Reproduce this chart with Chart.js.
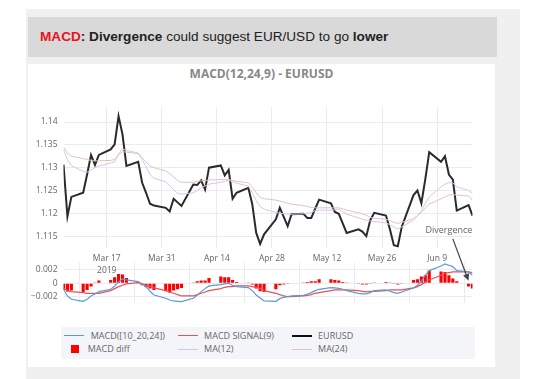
<!DOCTYPE html>
<html>
<head>
<meta charset="utf-8">
<script src="https://cdn.jsdelivr.net/npm/chart.js@4.4.1/dist/chart.umd.min.js"></script>
<style>
  body { margin: 0; background: #fff; }
  #wrap { position: relative; width: 543px; height: 379px; overflow: hidden; font-family: "Open Sans", sans-serif; }
  #outer { position: absolute; left: 26px; top: 9px; width: 494px; height: 380px; background: #f0f0f0; }
  #head { position: absolute; left: 28px; top: 17px; width: 469px; height: 40px; background: #d9d9d9;
          font: 13.6px "Liberation Sans", Arial, sans-serif; color: #222; line-height: 40px;
          padding-left: 12px; box-sizing: border-box; white-space: nowrap; }
  #head .red { color: #e8141b; }
  #panel { position: absolute; left: 28px; top: 64px; width: 467px; height: 303px; background: #fff; }
  #title { position: absolute; left: 28px; width: 467px; top: 65px; line-height: 16px; text-align: center;
           font: bold 12px "Open Sans", sans-serif; color: #888; }
  canvas { position: absolute; left: 0; top: 0; }
  #legend { position: absolute; left: 61px; top: 327px; width: 414px; height: 32px; background: #f4f5f9; }
  .li { position: absolute; font: 9px "Open Sans", sans-serif; color: #666; line-height: 12px; white-space: nowrap; }
  .sym { position: absolute; width: 20px; }
</style>
</head>
<body>
<div id="wrap">
  <div id="outer"></div>
  <div id="head"><b class="red">MACD</b><b>: Divergence</b> could suggest EUR/USD to go <b>lower</b></div>
  <div id="panel"></div>
  <div id="title">MACD(12,24,9) - EURUSD</div>
  <canvas id="macdChart" width="543" height="379"></canvas>
  <canvas id="priceChart" width="543" height="379"></canvas>
  <div id="legend"></div>
</div>
<script>
// trading days shown on the chart
const dates = [
  '2019-03-06','2019-03-07','2019-03-08','2019-03-11','2019-03-12','2019-03-13','2019-03-14','2019-03-15',
  '2019-03-18','2019-03-19','2019-03-20','2019-03-21','2019-03-22','2019-03-25','2019-03-26','2019-03-27',
  '2019-03-28','2019-03-29','2019-04-01','2019-04-02','2019-04-03','2019-04-04','2019-04-05','2019-04-08',
  '2019-04-09','2019-04-10','2019-04-11','2019-04-12','2019-04-15','2019-04-16','2019-04-17','2019-04-18',
  '2019-04-19','2019-04-22','2019-04-23','2019-04-24','2019-04-25','2019-04-26','2019-04-29','2019-04-30',
  '2019-05-01','2019-05-02','2019-05-03','2019-05-06','2019-05-07','2019-05-08','2019-05-09','2019-05-10',
  '2019-05-13','2019-05-14','2019-05-15','2019-05-16','2019-05-17','2019-05-20','2019-05-21','2019-05-22',
  '2019-05-23','2019-05-24','2019-05-27','2019-05-28','2019-05-29','2019-05-30','2019-05-31','2019-06-03',
  '2019-06-04','2019-06-05','2019-06-06','2019-06-07','2019-06-10','2019-06-11','2019-06-12','2019-06-13',
  '2019-06-14','2019-06-17','2019-06-18'
];

const eurusd = [
  1.1307, 1.1193, 1.1236, 1.1245, 1.1285, 1.1328, 1.1306, 1.1328,
  1.1340, 1.1351, 1.1413, 1.1373, 1.1304, 1.1313, 1.1267, 1.1245,
  1.1221, 1.1217, 1.1212, 1.1204, 1.1232, 1.1224, 1.1216, 1.1263,
  1.1262, 1.1272, 1.1252, 1.1300, 1.1305, 1.1283, 1.1295, 1.1232,
  1.1245, 1.1256, 1.1220, 1.1157, 1.1133, 1.1154, 1.1187, 1.1212,
  1.1192, 1.1172, 1.1198, 1.1199, 1.1190, 1.1190, 1.1210, 1.1230,
  1.1222, 1.1203, 1.1199, 1.1178, 1.1157, 1.1165, 1.1160, 1.1150,
  1.1185, 1.1201, 1.1195, 1.1165, 1.1130, 1.1128, 1.1170, 1.1240,
  1.1250, 1.1222, 1.1275, 1.1334, 1.1313, 1.1325, 1.1285, 1.1274,
  1.1206, 1.1218, 1.1195
];

const ma12 = [
  1.1340, 1.1318, 1.1304, 1.1292, 1.1290, 1.1295, 1.1300, 1.1304,
  1.1310, 1.1313, 1.1330, 1.1341, 1.1338, 1.1332, 1.1318, 1.1302,
  1.1285, 1.1277, 1.1269, 1.1260, 1.1252, 1.1244, 1.1242, 1.1245,
  1.1250, 1.1256, 1.1260, 1.1264, 1.1268, 1.1270, 1.1272, 1.1270,
  1.1266, 1.1260, 1.1245, 1.1228, 1.1215, 1.1209, 1.1202, 1.1200,
  1.1199, 1.1198, 1.1198, 1.1199, 1.1200, 1.1202, 1.1206, 1.1207,
  1.1207, 1.1208, 1.1209, 1.1204, 1.1198, 1.1190, 1.1187, 1.1185,
  1.1183, 1.1182, 1.1179, 1.1175, 1.1170, 1.1166, 1.1170, 1.1185,
  1.1195, 1.1205, 1.1222, 1.1236, 1.1258, 1.1264, 1.1267, 1.1267,
  1.1258, 1.1250, 1.1244
];

const ma24 = [
  1.1345, 1.1332, 1.1325, 1.1320, 1.1318, 1.1316, 1.1315, 1.1315,
  1.1316, 1.1318, 1.1328, 1.1335, 1.1334, 1.1331, 1.1322, 1.1312,
  1.1304, 1.1300, 1.1293, 1.1287, 1.1280, 1.1272, 1.1268, 1.1268,
  1.1270, 1.1271, 1.1272, 1.1273, 1.1274, 1.1274, 1.1274, 1.1272,
  1.1270, 1.1267, 1.1258, 1.1245, 1.1235, 1.1232, 1.1229, 1.1227,
  1.1225, 1.1222, 1.1220, 1.1217, 1.1215, 1.1213, 1.1212, 1.1212,
  1.1212, 1.1212, 1.1212, 1.1210, 1.1207, 1.1201, 1.1199, 1.1196,
  1.1191, 1.1189, 1.1187, 1.1184, 1.1180, 1.1178, 1.1180, 1.1188,
  1.1195, 1.1202, 1.1212, 1.1220, 1.1232, 1.1236, 1.1240, 1.1241,
  1.1240, 1.1238, 1.1228
];

const macdLine = [
  -0.0009, -0.0019, -0.0024, -0.0027, -0.0024, -0.0019, -0.0016, -0.00125,
  -0.0009, -0.0004, 0.0002, 0.00065, 0.0005, 0.00025, -0.0001, -0.0005,
  -0.0012, -0.00175, -0.00225, -0.0025, -0.00265, -0.0027, -0.00275, -0.00225,
  -0.0018, -0.00125, -0.0008, -0.0004, -0.0002, -0.0001, 0.0, -0.0003,
  -0.0005, -0.00065, -0.0011, -0.00175, -0.0022, -0.00265, -0.0027, -0.0023,
  -0.0021, -0.0020, -0.0019, -0.0018, -0.0016, -0.0014, -0.0011, -0.0009,
  -0.00065, -0.0007, -0.00075, -0.0009, -0.0011, -0.0015, -0.0016, -0.0016,
  -0.0014, -0.0011, -0.0010, -0.0012, -0.0014, -0.0015, -0.0013, -0.0007,
  -0.0003, 0.0003, 0.0012, 0.0019, 0.0026, 0.0029, 0.0027, 0.0025,
  0.0019, 0.0017, 0.0012
];

const macdSignal = [
  -0.00075, -0.0011, -0.00125, -0.0014, -0.0015, -0.0015, -0.0015, -0.0015,
  -0.0011, -0.0008, -0.0005, -0.0003, -0.0001, 0.0001, -0.0001, -0.00025,
  -0.0005, -0.0007, -0.0011, -0.0013, -0.0015, -0.0017, -0.0019, -0.0019,
  -0.0017, -0.0015, -0.0013, -0.0011, -0.0008, -0.0006, -0.0005, -0.0005,
  -0.0004, -0.0004, -0.0005, -0.0006, -0.0008, -0.0011, -0.0015, -0.0017,
  -0.0019, -0.0020, -0.0020, -0.0019, -0.0018, -0.0017, -0.0015, -0.0014,
  -0.0011, -0.0010, -0.0010, -0.0010, -0.0010, -0.0011, -0.0012, -0.0013,
  -0.0012, -0.0012, -0.0011, -0.0010, -0.0010, -0.0010, -0.0010, -0.0007,
  -0.0005, -0.0002, 0.0002, 0.0005, 0.0012, 0.0015, 0.0016, 0.0017,
  0.0017, 0.0017, 0.0016
];

const macdDiff = [
  -0.0010, -0.00125, -0.0011, -0.0013, -0.0010, -0.0005, 0.0001, 0.0004,
  0.0005, 0.0009, 0.0014, 0.0013, 0.0008, 0.0002, -0.0003, -0.0006,
  -0.0008, -0.0010, -0.0012, -0.0014, -0.0011, -0.0009, -0.0007, 0.0001,
  0.0003, 0.0004, 0.0004, 0.0008, 0.0010, 0.0009, 0.0009, 0.0005,
  0.0002, 0.0001, -0.0002, -0.0008, -0.0012, -0.0013, -0.0009, -0.0003,
  -0.0002, -0.0001, 0.0, 0.0001, 0.0002, 0.0003, 0.0003, 0.0006,
  0.0006, 0.0005, 0.0004, 0.0002, 0.0001, -0.0001, -0.0002, -0.0002,
  -0.0001, 0.0001, 0.0002, 0.0001, -0.0001, -0.0002, -0.0001, 0.0005,
  0.0006, 0.0010, 0.0012, 0.0019, 0.00175, 0.0017, 0.0012, 0.0007,
  0.0003, -0.0005, -0.0008
];

const xTickDates = ['2019-03-17','2019-03-31','2019-04-14','2019-04-28','2019-05-12','2019-05-26','2019-06-09'];
const xTickLabels = [['Mar 17', '2019'], 'Mar 31', 'Apr 14', 'Apr 28', 'May 12', 'May 26', 'Jun 9'];
const priceTicks = [1.115, 1.12, 1.125, 1.13, 1.135, 1.14];
const priceTickLabels = ['1.115', '1.12', '1.125', '1.13', '1.135', '1.14'];
const macdTicks = [-0.002, 0, 0.002];
const macdTickLabels = ['\u22120.002', '0', '0.002'];

// annotation, in data coordinates of the price axis
const divergenceLabel = { date: '2019-06-12', value: 1.1162, text: 'Divergence' };
const divergenceArrow = { from: ['2019-06-13', 1.1144], to: ['2019-06-17', 1.1052] };

const dayNum = s => Date.parse(s + 'T00:00:00Z') / 864e5;
const pts = arr => dates.map((d, i) => ({ x: dayNum(d), y: arr[i] }));
const xMin = dayNum(dates[0]);
const xMax = dayNum(dates[dates.length - 1]);

const gridColor = '#e8ebf3';
const tickFont = { family: 'Open Sans', size: 8.5 };
const tickColor = '#666';
const ma12Color = '#d3c6ee';
const ma24Color = '#e2c3bb';

function xAxis(showLabels) {
  return {
    type: 'linear',
    min: xMin,
    max: xMax,
    offset: false,
    afterBuildTicks: s => { s.ticks = xTickDates.map(d => ({ value: dayNum(d) })); },
    afterFit: s => { s.height = showLabels ? 30 : 0; },
    grid: { color: gridColor, drawTicks: false },
    border: { display: false },
    ticks: {
      display: showLabels,
      autoSkip: false,
      maxRotation: 0,
      padding: 5,
      font: { ...tickFont, lineHeight: 1.4 },
      color: tickColor,
      callback: (v, i) => xTickLabels[i]
    }
  };
}

function yAxis(min, max, tickVals, tickLabels) {
  return {
    min: min,
    max: max,
    afterBuildTicks: s => { s.ticks = tickVals.map(v => ({ value: v })); },
    afterFit: s => { s.width = 63.5; },
    grid: { color: gridColor, drawTicks: false },
    border: { display: false },
    ticks: { padding: 6, font: tickFont, color: tickColor, callback: (v, i) => tickLabels[i] }
  };
}

const divergencePlugin = {
  id: 'divergence',
  afterDatasetsDraw(chart) {
    const { ctx, scales: { x, y } } = chart;
    ctx.save();
    ctx.font = '9px "Open Sans"';
    ctx.fillStyle = '#666';
    ctx.textAlign = 'center';
    ctx.textBaseline = 'middle';
    ctx.fillText(divergenceLabel.text, x.getPixelForValue(dayNum(divergenceLabel.date)), y.getPixelForValue(divergenceLabel.value));

    const x0 = x.getPixelForValue(dayNum(divergenceArrow.from[0])), y0 = y.getPixelForValue(divergenceArrow.from[1]);
    const x1 = x.getPixelForValue(dayNum(divergenceArrow.to[0])), y1 = y.getPixelForValue(divergenceArrow.to[1]);
    const ang = Math.atan2(y1 - y0, x1 - x0);
    ctx.strokeStyle = '#444';
    ctx.fillStyle = '#444';
    ctx.lineWidth = 1.2;
    ctx.beginPath();
    ctx.moveTo(x0, y0);
    ctx.lineTo(x1 - 5 * Math.cos(ang), y1 - 5 * Math.sin(ang));
    ctx.stroke();
    ctx.beginPath();
    ctx.moveTo(x1, y1);
    ctx.lineTo(x1 - 7 * Math.cos(ang) + 3.2 * Math.sin(ang), y1 - 7 * Math.sin(ang) - 3.2 * Math.cos(ang));
    ctx.lineTo(x1 - 7 * Math.cos(ang) - 3.2 * Math.sin(ang), y1 - 7 * Math.sin(ang) + 3.2 * Math.cos(ang));
    ctx.closePath();
    ctx.fill();
    ctx.restore();
  }
};

new Chart(document.getElementById('priceChart'), {
  type: 'line',
  data: {
    datasets: [
      { label: 'MA(24)', data: pts(ma24), borderColor: ma24Color, borderWidth: 1 },
      { label: 'MA(12)', data: pts(ma12), borderColor: ma12Color, borderWidth: 1 },
      { label: 'EURUSD', data: pts(eurusd), borderColor: '#2a2a2a', borderWidth: 2 }
    ]
  },
  options: {
    responsive: false,
    animation: false,
    layout: { padding: { left: 0, top: 107, right: 70.5, bottom: 101 } },
    elements: { point: { radius: 0 }, line: { tension: 0 } },
    plugins: { legend: { display: false }, tooltip: { enabled: false } },
    scales: {
      x: xAxis(true),
      y: yAxis(1.1124, 1.1433, priceTicks, priceTickLabels)
    }
  },
  plugins: [divergencePlugin]
});

new Chart(document.getElementById('macdChart'), {
  type: 'bar',
  data: {
    datasets: [
      { type: 'bar', label: 'MACD diff', data: pts(macdDiff), backgroundColor: '#ff0000',
        barPercentage: 0.8, categoryPercentage: 1, order: 3 },
      { type: 'line', label: 'MACD SIGNAL(9)', data: pts(macdSignal), borderColor: '#e8505a', borderWidth: 1.2, order: 2 },
      { type: 'line', label: 'MACD([10_20,24])', data: pts(macdLine), borderColor: '#5b9bd5', borderWidth: 1.2, order: 1 }
    ]
  },
  options: {
    responsive: false,
    animation: false,
    layout: { padding: { left: 0, top: 262.6, right: 70.5, bottom: 75.7 } },
    elements: { point: { radius: 0 }, line: { tension: 0 } },
    plugins: { legend: { display: false }, tooltip: { enabled: false } },
    scales: {
      x: xAxis(false),
      y: yAxis(-0.003, 0.0031, macdTicks, macdTickLabels)
    }
  }
});

// legend, laid out like the original three column box
const legendItems = [
  { text: 'MACD([10_20,24])', kind: 'line', color: '#5b9bd5', w: 1, col: 0, row: 0 },
  { text: 'MACD SIGNAL(9)', kind: 'line', color: '#e8505a', w: 1, col: 1, row: 0 },
  { text: 'EURUSD', kind: 'line', color: '#111', w: 2, col: 2, row: 0 },
  { text: 'MACD diff', kind: 'box', color: '#ff0000', col: 0, row: 1 },
  { text: 'MA(12)', kind: 'line', color: ma12Color, w: 1, col: 1, row: 1 },
  { text: 'MA(24)', kind: 'line', color: ma24Color, w: 1, col: 2, row: 1 }
];
const legend = document.getElementById('legend');
const colX = [3.3, 116.7, 230.7];
const rowY = [8.7, 22];
legendItems.forEach(it => {
  const sym = document.createElement('div');
  sym.className = 'sym';
  if (it.kind === 'line') {
    sym.style.left = colX[it.col] + 'px';
    sym.style.top = (rowY[it.row] - it.w / 2) + 'px';
    sym.style.height = it.w + 'px';
    sym.style.background = it.color;
  } else {
    sym.style.left = (colX[it.col] + 6.4) + 'px';
    sym.style.top = (rowY[it.row] - 4) + 'px';
    sym.style.width = '8px';
    sym.style.height = '8px';
    sym.style.background = it.color;
  }
  legend.appendChild(sym);
  const lab = document.createElement('div');
  lab.className = 'li';
  lab.textContent = it.text;
  lab.style.left = (colX[it.col] + (it.kind === 'box' ? 23.4 : 26.4)) + 'px';
  lab.style.top = (rowY[it.row] - 6) + 'px';
  legend.appendChild(lab);
});
</script>
</body>
</html>
